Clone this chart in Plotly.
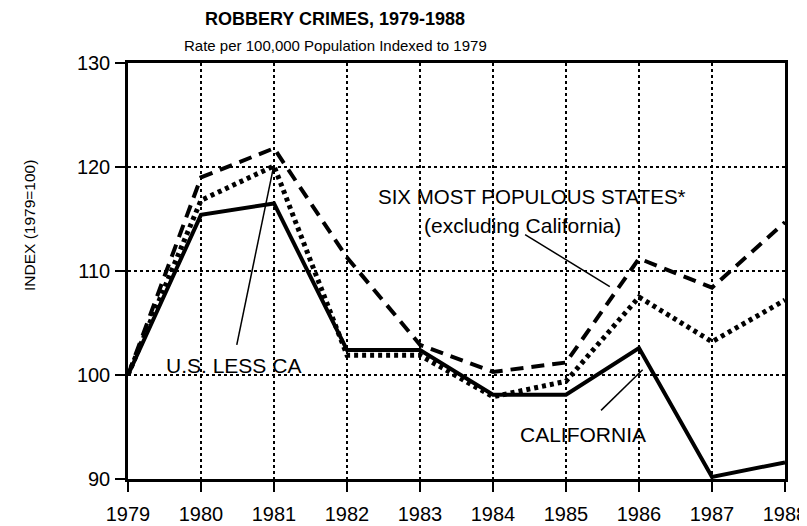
import plotly.graph_objects as go

years = [1979, 1980, 1981, 1982, 1983, 1984, 1985, 1986, 1987, 1988]
california = [100, 115.4, 116.5, 102.4, 102.4, 98.1, 98.1, 102.6, 90.2, 91.6]
six_states = [100, 119.0, 121.8, 111.3, 102.9, 100.3, 101.2, 111.2, 108.4, 114.7]
us_less_ca = [100, 116.8, 120.1, 101.9, 101.9, 97.9, 99.4, 107.5, 103.2, 107.2]
y_ticks = [90, 100, 110, 120, 130]

FONT = "Liberation Sans, Arial, Helvetica, sans-serif"

fig = go.Figure()
fig.add_trace(go.Scatter(x=years, y=us_less_ca, mode="lines",
                         line=dict(color="black", width=5, dash="4px,4px"),
                         name="U.S. LESS CA"))
fig.add_trace(go.Scatter(x=years, y=six_states, mode="lines",
                         line=dict(color="black", width=4, dash="13px,8px"),
                         name="SIX MOST POPULOUS STATES*"))
fig.add_trace(go.Scatter(x=years, y=california, mode="lines",
                         line=dict(color="black", width=4),
                         name="CALIFORNIA"))

# leader lines
leaders = [
    (1980.49, 102.9, 1980.99, 119.9),
    (1984.44, 113.5, 1985.6, 108.5),
    (1985.48, 96.6, 1986.05, 100.5),
]
for x0, y0, x1, y1 in leaders:
    fig.add_shape(type="line", x0=x0, y0=y0, x1=x1, y1=y1, xref="x", yref="y",
                  line=dict(color="black", width=1.5))

def af(size):
    return dict(family=FONT, size=size, color="black")

fig.add_annotation(x=1980.44, y=100.9, text="U.S. LESS CA", showarrow=False, font=af(21))
fig.add_annotation(x=1984.53, y=117.2, text="SIX MOST POPULOUS STATES*", showarrow=False, font=af(20.5))
fig.add_annotation(x=1984.4, y=114.4, text="(excluding California)", showarrow=False, font=af(21))
fig.add_annotation(x=1985.23, y=94.3, text="CALIFORNIA", showarrow=False, font=af(21))

# page body has an 8px margin; compensate so the plot lands where the reference has it
OFF = 8
L, R, T, B = 128 - OFF, 22, 63 - OFF, 47
W, H = 807 - OFF, 526 - OFF
px_w = W - L - R

title_x = (335 - 128) / px_w
fig.add_annotation(x=title_x, y=1, xref="paper", yref="paper", xanchor="center", yanchor="middle",
                   yshift=44, text="<b>ROBBERY CRIMES, 1979-1988</b>", showarrow=False,
                   font=af(18))
fig.add_annotation(x=title_x, y=1, xref="paper", yref="paper", xanchor="center", yanchor="middle",
                   yshift=18, text="Rate per 100,000 Population Indexed to 1979", showarrow=False,
                   font=af(15))
fig.add_annotation(x=(29 - 128) / px_w, y=1, xref="paper", yref="paper",
                   text="INDEX (1979=100)", textangle=-90, showarrow=False,
                   xanchor="center", yanchor="middle", yshift=-(226 - 63),
                   font=af(15.5))

fig.update_layout(
    width=W, height=H,
    margin=dict(l=L, r=R, t=T, b=B, autoexpand=False),
    paper_bgcolor="white", plot_bgcolor="white",
    showlegend=False,
    font=dict(family=FONT, color="black"),
)

fig.update_xaxes(range=[1979, 1988], tickvals=years, ticktext=[str(y) for y in years],
                 showgrid=True, gridcolor="black", gridwidth=1.8, griddash="dot",
                 showline=True, linecolor="black", linewidth=2.5, mirror=True,
                 ticks="outside", ticklen=10, tickwidth=2, tickcolor="black",
                 ticklabelstandoff=5, ticklabeloverflow="allow",
                 tickfont=af(20), zeroline=False, automargin=False)
fig.update_yaxes(range=[90, 130], tickvals=y_ticks,
                 showgrid=True, gridcolor="black", gridwidth=1.8, griddash="dot",
                 showline=True, linecolor="black", linewidth=2.5, mirror=True,
                 ticks="outside", ticklen=10, tickwidth=2, tickcolor="black",
                 ticklabelstandoff=1, ticklabeloverflow="allow",
                 tickfont=af(20), zeroline=False, automargin=False)

fig.write_html("out.html")
